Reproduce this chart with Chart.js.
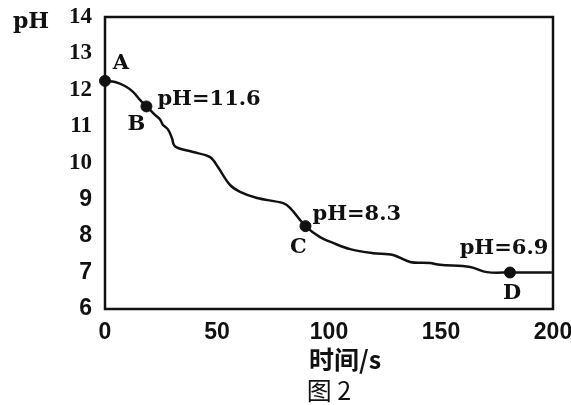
<!DOCTYPE html>
<html>
<head>
<meta charset="utf-8">
<script src="https://cdn.jsdelivr.net/npm/chart.js@4/dist/chart.umd.min.js"></script>
<style>
  html, body { margin: 0; padding: 0; background: #fff; }
  #wrap { width: 571px; height: 405px; }
</style>
</head>
<body>
<div id="wrap"><canvas id="phChart" width="571" height="405"></canvas></div>
<script>
// time in seconds and pH
const times = [0, 4.5, 8.9, 12.5, 15.6, 18.5, 22.3, 24.5, 25.9, 28.1, 29.9, 30.8, 32.6, 39.3, 46.9, 50.4, 55.8, 60.3, 67.9, 79.5, 82.6, 89.5, 96, 101.8, 109.4, 119.6, 128.6, 136.2, 145, 149.6, 163, 170.5, 180.8, 190, 199.5];
const phValues = [12.25, 12.22, 12.11, 11.95, 11.73, 11.55, 11.32, 11.2, 11.04, 10.92, 10.68, 10.49, 10.41, 10.3, 10.16, 9.89, 9.4, 9.21, 9.04, 8.9, 8.77, 8.27, 7.97, 7.81, 7.64, 7.53, 7.48, 7.29, 7.26, 7.21, 7.15, 7.01, 7.0, 7.0, 7.0];

// marked points A-D
const pointNames = ['A', 'B', 'C', 'D'];
const pointTimes = [0, 18.5, 89.5, 180.8];
const pointPh = [12.25, 11.55, 8.27, 7.0];
const pointLabels = ['', 'pH=11.6', 'pH=8.3', 'pH=6.9'];

const xTicks = [0, 50, 100, 150, 200];
const yTicks = [6, 7, 8, 9, 10, 11, 12, 13, 14];

const serif = '"Liberation Serif", "DejaVu Serif", serif';
const wideSerif = '"DejaVu Serif", serif';
const sans = '"Liberation Sans", Arial, sans-serif';
const cjk = '"Noto Sans CJK SC", sans-serif';

// label offsets from each point (px): [nameDx, nameDy, phDx, phDy, phAlign]
const labelOffsets = [
  [16, -17, 0, 0, 'left'],
  [-10, 18, 11, -7, 'left'],
  [-7, 21, 7, -12, 'left'],
  [2, 21, -6, -24, 'center']
];

const annotations = {
  id: 'annotations',
  afterDraw(chart) {
    const c = chart.ctx;
    const area = chart.chartArea;
    const xs = chart.scales.x;
    const ys = chart.scales.y;
    c.save();
    // frame
    c.strokeStyle = '#111';
    c.lineWidth = 2.5;
    c.strokeRect(area.left, area.top, area.right - area.left, area.bottom - area.top);

    c.fillStyle = '#111';
    c.textBaseline = 'middle';
    c.font = 'bold 21px ' + wideSerif;
    pointNames.forEach((name, i) => {
      const px = xs.getPixelForValue(pointTimes[i]);
      const py = ys.getPixelForValue(pointPh[i]);
      const off = labelOffsets[i];
      c.textAlign = 'center';
      c.fillText(name, px + off[0], py + off[1]);
      if (pointLabels[i]) {
        c.textAlign = off[4];
        c.fillText(pointLabels[i], px + off[2], py + off[3]);
      }
    });

    // y axis name at top-left
    c.textAlign = 'center';
    c.font = 'bold 22px ' + wideSerif;
    c.fillText('pH', 31, area.top + 5);

    // x axis name and figure caption
    c.font = 'bold 25px ' + cjk;
    c.fillText('时间/s', 345, 359);
    c.font = '25px ' + cjk;
    c.fillText('图 2', 329, 390);
    c.restore();
  }
};

const ctx = document.getElementById('phChart').getContext('2d');
new Chart(ctx, {
  type: 'scatter',
  data: {
    datasets: [
      {
        data: times.map((t, i) => ({ x: t, y: phValues[i] })),
        showLine: true,
        borderColor: '#111',
        borderWidth: 2.5,
        pointRadius: 0,
        tension: 0.35,
        fill: false
      },
      {
        data: pointTimes.map((t, i) => ({ x: t, y: pointPh[i] })),
        showLine: false,
        backgroundColor: '#111',
        borderColor: '#111',
        pointRadius: 5.5,
        clip: false
      }
    ]
  },
  options: {
    responsive: false,
    animation: false,
    events: [],
    layout: { padding: { top: 17, right: 18, left: 0, bottom: 0 } },
    plugins: {
      legend: { display: false },
      tooltip: { enabled: false }
    },
    scales: {
      x: {
        type: 'linear',
        min: 0,
        max: 200,
        afterBuildTicks: s => { s.ticks = xTicks.map(v => ({ value: v })); },
        afterFit: s => { s.height = 96; s.paddingLeft = 0; s.paddingRight = 0; },
        grid: { display: false, drawTicks: false },
        border: { display: false },
        ticks: {
          color: '#111',
          padding: 10,
          font: { family: sans, size: 23, weight: 'bold' }
        }
      },
      y: {
        type: 'linear',
        min: 6,
        max: 14,
        afterBuildTicks: s => { s.ticks = yTicks.map(v => ({ value: v })); },
        afterFit: s => { s.width = 105; s.paddingTop = 0; s.paddingBottom = 0; },
        grid: { display: false, drawTicks: false },
        border: { display: false },
        ticks: {
          color: '#111',
          padding: 13,
          font: c => ({
            family: c.tick && c.tick.value >= 10 ? serif : sans,
            size: 23,
            weight: 'bold'
          })
        }
      }
    }
  },
  plugins: [annotations]
});
</script>
</body>
</html>
